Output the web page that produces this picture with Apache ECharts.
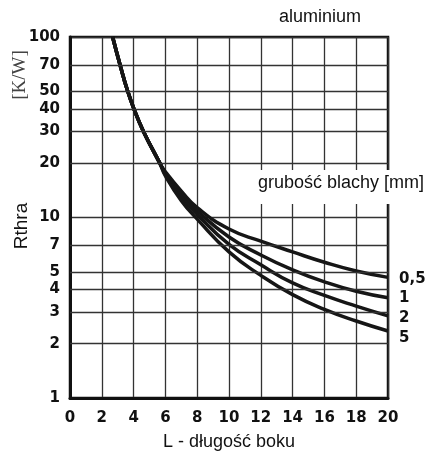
<!DOCTYPE html>
<html>
<head>
<meta charset="utf-8">
<script src="https://cdn.jsdelivr.net/npm/echarts@6/dist/echarts.min.js"></script>
<style>
    html, body { margin: 0; padding: 0; background: #fff; }
    #chart { width: 432px; height: 456px; }
</style>
</head>
<body>
<div id="chart"></div>
<script>
    // shared start of all curves (they lie on top of each other)
    var headL = [2.68, 3.15, 3.6, 4.02, 4.62, 5.65];
    var headR = [100, 70, 51, 40, 30, 20];
    // after they split
    var tailL = [6, 7, 8, 10, 12, 14, 16, 18, 20];
    var r05 = [17.9, 14.0, 11.35, 8.63, 7.4, 6.45, 5.65, 5.05, 4.66];
    var r1 = [17.6, 13.5, 10.9, 7.8, 6.2, 5.13, 4.4, 3.9, 3.59];
    var r2 = [17.3, 13.0, 10.4, 7.1, 5.47, 4.34, 3.7, 3.23, 2.85];
    var r5 = [17.0, 12.4, 9.8, 6.45, 4.78, 3.74, 3.1, 2.67, 2.35];
    var thickness = ['0,5', '1', '2', '5'];
    var labelOffsets = [[0, 2], [0, 0], [0, 2], [0, 7]];
    // extra horizontal grid values (log axis only gives 1, 10, 100)
    var yTicks = [2, 3, 4, 5, 7, 20, 30, 40, 50, 70];

    var bold = {color: '#111', fontSize: 15, fontWeight: 'bold', fontFamily: 'DejaVu Sans'};
    var gridLine = {color: '#333', width: 1.3, type: 'solid'};

    function curve(vals) {
        var pts = [];
        for (var i = 0; i < headL.length; i++) pts.push([headL[i], headR[i]]);
        for (var j = 0; j < tailL.length; j++) pts.push([tailL[j], vals[j]]);
        return pts;
    }

    var series = [{
        type: 'line',
        z: 1,
        silent: true,
        showSymbol: false,
        data: [[0, 1]],
        lineStyle: {opacity: 0},
        markLine: {
            silent: true,
            symbol: ['none', 'none'],
            lineStyle: gridLine,
            label: {
                show: true,
                position: 'start',
                distance: 10,
                formatter: function (p) { return p.value; },
                color: '#111', fontSize: 15, fontWeight: 'bold', fontFamily: 'DejaVu Sans'
            },
            emphasis: {disabled: true},
            data: yTicks.map(function (v) { return {yAxis: v}; })
        }
    }];
    [r05, r1, r2, r5].forEach(function (vals, i) {
        series.push({
            name: thickness[i],
            type: 'line',
            z: 3,
            smooth: true,
            showSymbol: false,
            data: curve(vals),
            lineStyle: {color: '#161616', width: 3.5},
            endLabel: {
                show: true,
                formatter: thickness[i],
                distance: 11,
                offset: labelOffsets[i],
                color: '#111', fontSize: 15, fontWeight: 'bold', fontFamily: 'DejaVu Sans'
            }
        });
    });

    var myChart = echarts.init(document.getElementById('chart'));
    var option = {
        animation: false,
        textStyle: {fontFamily: 'Liberation Sans'},
        grid: {
            left: 70, top: 37, right: 44, bottom: 55,
            show: true, borderColor: '#111', borderWidth: 2.5
        },
        xAxis: {
            type: 'value',
            min: 0, max: 20, interval: 2,
            name: 'L - długość boku',
            nameLocation: 'middle',
            nameGap: 35,
            nameTextStyle: {color: '#111', fontSize: 18, fontFamily: 'Liberation Sans', verticalAlign: 'top'},
            axisLine: {lineStyle: {color: '#111', width: 3}},
            axisTick: {show: false},
            axisLabel: Object.assign({margin: 13}, bold),
            splitLine: {show: true, lineStyle: gridLine}
        },
        yAxis: {
            type: 'log',
            logBase: 10,
            min: 1, max: 100,
            axisLine: {show: true, lineStyle: {color: '#111', width: 3}},
            axisTick: {show: false},
            axisLabel: Object.assign({margin: 10}, bold),
            splitLine: {show: true, lineStyle: gridLine}
        },
        graphic: [
            {type: 'rect', z: 50, shape: {x: 250, y: 170, width: 182, height: 34}, style: {fill: '#fff'}},
            {type: 'text', z: 51, x: 258, y: 183,
                style: {text: 'grubość blachy [mm]', fill: '#111', font: '18px "Liberation Sans"', verticalAlign: 'middle'}},
            {type: 'text', z: 51, x: 279, y: 17,
                style: {text: 'aluminium', fill: '#111', font: '18px "Liberation Sans"', verticalAlign: 'middle'}},
            {type: 'text', z: 51, x: 22, y: 226, rotation: Math.PI / 2,
                style: {text: 'Rthra', fill: '#111', font: '19px "Liberation Sans"', align: 'center', verticalAlign: 'middle'}},
            {type: 'text', z: 51, x: 20, y: 75, rotation: Math.PI / 2,
                style: {text: '[K/W]', fill: '#444', font: '19px "Liberation Serif"', align: 'center', verticalAlign: 'middle'}}
        ],
        series: series
    };
    myChart.setOption(option);
</script>
</body>
</html>
